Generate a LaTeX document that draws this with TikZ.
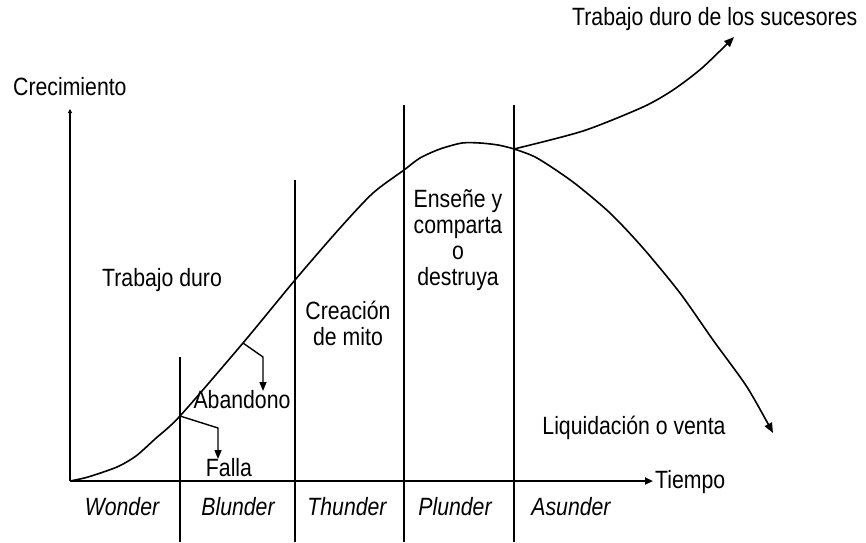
\documentclass[tikz,border=0pt]{standalone}
\usepackage{fontspec}
\setmainfont{Liberation Sans}[FakeStretch=0.85]
\usetikzlibrary{arrows.meta}
\begin{document}
\begin{tikzpicture}[x=1pt,y=-1pt,
  lbl/.style={inner sep=0pt,font=\fontsize{25}{26}\selectfont},
  ilbl/.style={lbl,font=\fontsize{25}{26}\selectfont\itshape,anchor=base},
  axisline/.style={line width=2pt},
  divline/.style={line width=1.4pt},
  curveline/.style={line width=1.6pt,line join=round},
  tip/.style={-{Triangle[length=10pt,width=8pt]}}]
\useasboundingbox (0,0) rectangle (866,542);
% axes
\coordinate (O) at (70,481);
\coordinate (Ytop) at (70,109);
\coordinate (Xend) at (653,481);
\draw[axisline,-{Triangle[length=4pt,width=4pt]}] (O) -- (Ytop);
\draw[axisline,-{Triangle[length=8pt,width=7pt]}] (O) -- (Xend);
% dividing lines
\coordinate (d1t) at (180,357); \coordinate (d1b) at (180,542);
\coordinate (d2t) at (295,180); \coordinate (d2b) at (295,542);
\coordinate (d3t) at (404,105); \coordinate (d3b) at (404,542);
\coordinate (d4t) at (514,105); \coordinate (d4b) at (514,542);
\draw[divline] (d1t) -- (d1b);
\draw[divline] (d2t) -- (d2b);
\draw[divline] (d3t) -- (d3b);
\draw[divline] (d4t) -- (d4b);
% main curve
\coordinate (Pf) at (180,416);
\coordinate (Pa) at (243,343);
\coordinate (Pk) at (514,149);
\coordinate (Pend) at (773,433);
\draw[curveline,tip] plot[smooth,tension=0.45] coordinates{(70,481) (88,477) (117,467) (136,456) (155,439) (180,416) (243,343) (295,280) (340,228) (373,193) (404,170) (420,158) (440,149) (462,143) (480,143) (498,145) (514,149) (537,158) (573,182) (610,213) (643,248) (680,293) (713,340) (747,387) (773,433)};
% successors branch
\coordinate (Bend) at (734,37);
\draw[curveline,tip] plot[smooth,tension=0.45] coordinates{(514,149) (583,131) (643,107) (673,90) (702,68) (734,37)};
% Abandono and Falla arrows
\coordinate (Pa1) at (263,357); \coordinate (Pa2) at (263,391);
\coordinate (Pf1) at (218,428); \coordinate (Pf2) at (218,459);
\draw[divline,line join=round,-{Triangle[length=9pt,width=7pt]}] (Pa) -- (Pa1) -- (Pa2);
\draw[divline,line join=round,-{Triangle[length=9pt,width=7pt]}] (Pf) -- (Pf1) -- (Pf2);
% labels
\node[lbl,anchor=base west] (crec) at (13,95) {Crecimiento};
\node[lbl,anchor=base west] (suc) at (572,25) {Trabajo duro de los sucesores};
\node[lbl,anchor=base west] (tdur) at (102,286) {Trabajo duro};
\node[lbl,align=center] (mito) at (348,323) {Creación\\de mito};
\node[lbl,align=center] (ens) at (458,240) {Enseñe y\\comparta\\o\\destruya};
\node[lbl] (aband) at (242,400) {Abandono};
\node[lbl] (falla) at (229,468) {Falla};
\node[lbl] (liq) at (634,428) {Liquidación o venta};
\node[lbl,anchor=base west] (tiempo) at (655,488) {Tiempo};
\node[ilbl] (w) at (122,515) {Wonder};
\node[ilbl] (b) at (238,515) {Blunder};
\node[ilbl] (t) at (347,515) {Thunder};
\node[ilbl] (p) at (455,515) {Plunder};
\node[ilbl] (a) at (571,515) {Asunder};
\end{tikzpicture}
\end{document}
